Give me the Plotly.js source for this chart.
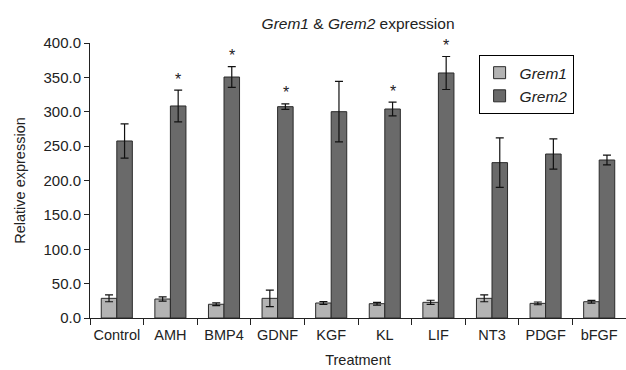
<!DOCTYPE html>
<html>
<head>
<meta charset="utf-8">
<script src="https://cdn.plot.ly/plotly-3.0.1.min.js"></script>
<style>html,body{margin:0;padding:0;background:#fff;}#chart{width:626px;height:370px;}</style>
</head>
<body>
<div id="chart"></div>
<script>
var categories = ["Control", "AMH", "BMP4", "GDNF", "KGF", "KL", "LIF", "NT3", "PDGF", "bFGF"];
var grem1 = [28.6, 27.6, 20.0, 28.6, 21.8, 20.8, 22.8, 28.6, 21.3, 23.7];
var grem1Err = [5, 3, 2, 12, 2, 2, 3, 5, 2, 2];
var grem2 = [257.5, 308.4, 350.5, 307.4, 300.1, 304.0, 356.4, 226.0, 238.5, 229.8];
var grem2Err = [25, 23, 15, 4, 44, 10, 24, 36, 22, 7];
var significant = ["AMH", "BMP4", "GDNF", "KL", "LIF"];
var yTicks = [0, 50, 100, 150, 200, 250, 300, 350, 400];
var yTickLabels = ["0.0", "50.0", "100.0", "150.0", "200.0", "250.0", "300.0", "350.0", "400.0"];

var fontFam = "Liberation Sans, Arial, sans-serif";

var traces = [
  {
    type: "bar", name: "<i>Grem1</i>", x: categories, y: grem1,
    marker: {color: "#b3b3b3", line: {color: "#2a2a2a", width: 1}},
    error_y: {type: "data", array: grem1Err, visible: true, color: "#111", thickness: 1.2, width: 4}
  },
  {
    type: "bar", name: "<i>Grem2</i>", x: categories, y: grem2,
    marker: {color: "#6a6a6a", line: {color: "#2a2a2a", width: 1}},
    error_y: {type: "data", array: grem2Err, visible: true, color: "#111", thickness: 1.2, width: 4}
  }
];

var annotations = [];
categories.forEach(function (c, i) {
  if (significant.indexOf(c) >= 0) {
    annotations.push({
      x: c, y: grem2[i] + grem2Err[i], xref: "x", yref: "y",
      text: "*", showarrow: false, xshift: 8, yshift: 11,
      font: {family: fontFam, size: 16, color: "#222"}
    });
  }
});

var layout = {
  width: 626, height: 370,
  margin: {l: 90, r: 0, t: 43, b: 52},
  paper_bgcolor: "#fff", plot_bgcolor: "#fff",
  font: {family: fontFam, color: "#222"},
  title: {
    text: "<i>Grem1</i> & <i>Grem2</i> expression",
    x: 0.572, xanchor: "center", y: 0.937, yanchor: "middle",
    font: {family: fontFam, size: 15.5, color: "#222"}
  },
  barmode: "group", bargap: 0.42, bargroupgap: 0,
  showlegend: true,
  legend: {
    x: 0.725, y: 0.956, xanchor: "left", yanchor: "top",
    bordercolor: "#000", borderwidth: 1, bgcolor: "#fff",
    font: {family: fontFam, size: 15.5, color: "#222"},
    tracegroupgap: 0, itemwidth: 30
  },
  xaxis: {
    type: "category",
    showline: true, linecolor: "#222", linewidth: 1,
    ticks: "outside", tickson: "boundaries", ticklen: 6, tickcolor: "#222",
    tickangle: 0, ticklabelstandoff: 4,
    tickfont: {family: fontFam, size: 14.5, color: "#222"},
    showgrid: false, zeroline: false,
    title: {text: "Treatment", font: {family: fontFam, size: 14.5, color: "#222"}, standoff: 12}
  },
  yaxis: {
    range: [0, 400],
    tickmode: "array", tickvals: yTicks, ticktext: yTickLabels,
    showline: true, linecolor: "#222", linewidth: 1,
    ticks: "outside", ticklen: 5, tickcolor: "#222",
    tickfont: {family: fontFam, size: 15, color: "#222"},
    showgrid: false, zeroline: false,
    title: {text: "Relative expression", font: {family: fontFam, size: 14.5, color: "#222"}, standoff: 14}
  },
  annotations: annotations
};

Plotly.newPlot("chart", traces, layout, {displayModeBar: false, staticPlot: true});
</script>
</body>
</html>
